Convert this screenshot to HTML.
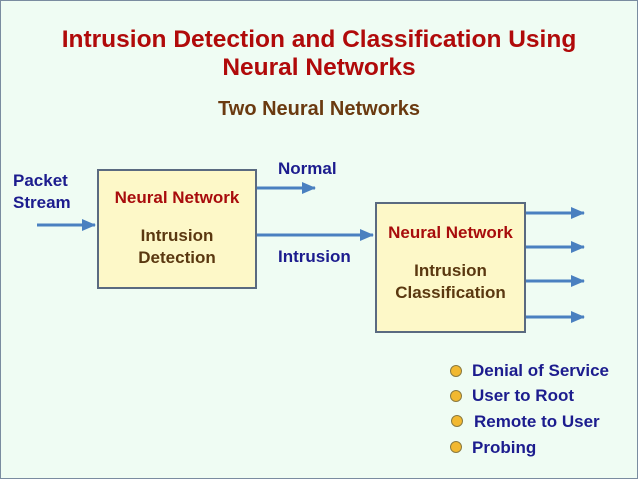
<!DOCTYPE html>
<html><head><style>
body{margin:0;}
#p{position:relative;width:636px;height:477px;border:1px solid #7a8ca0;background:#effcf3;font-family:"Liberation Sans",Arial,sans-serif;font-weight:bold;overflow:hidden;}
.t{position:absolute;white-space:nowrap;}
.blue{color:#1c1c8e;font-size:17px;}
.box{position:absolute;background:#fdf8c8;border:2px solid #5a6a80;box-sizing:border-box;text-align:center;}
.red{color:#a80c0c;font-size:17px;}
.br{color:#5a3810;font-size:17px;line-height:22px;}
.dot{position:absolute;width:10px;height:10px;border-radius:50%;background:#f2b830;border:1px solid #8a7a40;}
</style></head><body><div id="p">
<div class="t" style="left:0;width:636px;text-align:center;top:25px;color:#b00a0a;font-size:24.5px;line-height:28px;">Intrusion Detection and Classification Using<br>Neural Networks</div>
<div class="t" style="left:0;width:636px;text-align:center;top:97px;color:#6a3a10;font-size:20px;">Two Neural Networks</div>
<div class="t blue" style="left:12px;top:169px;line-height:22px;">Packet<br>Stream</div>
<div class="box" style="left:96px;top:168px;width:160px;height:120px;">
<div class="red" style="margin-top:17px;">Neural Network</div>
<div class="br" style="margin-top:17px;">Intrusion<br>Detection</div></div>
<div class="t blue" style="left:277px;top:158px;">Normal</div>
<div class="t blue" style="left:277px;top:246px;">Intrusion</div>
<div class="box" style="left:374px;top:201px;width:151px;height:131px;">
<div class="red" style="margin-top:19px;">Neural Network</div>
<div class="br" style="margin-top:17px;">Intrusion<br>Classification</div></div>
<svg style="position:absolute;left:0;top:0" width="636" height="477">
<defs><marker id="a" markerWidth="14" markerHeight="12" refX="13" refY="6" orient="auto" markerUnits="userSpaceOnUse"><path d="M0,0L14,6L0,12z" fill="#4a80c0"/></marker></defs>
<g stroke="#4a80c0" stroke-width="3" marker-end="url(#a)">
<line x1="36" y1="224" x2="94" y2="224"/>
<line x1="256" y1="187" x2="314" y2="187"/>
<line x1="256" y1="234" x2="372" y2="234"/>
<line x1="525" y1="212" x2="583" y2="212"/>
<line x1="525" y1="246" x2="583" y2="246"/>
<line x1="525" y1="280" x2="583" y2="280"/>
<line x1="525" y1="316" x2="583" y2="316"/>
</g></svg>
<div class="dot" style="left:449px;top:364px;"></div>
<div class="dot" style="left:449px;top:389px;"></div>
<div class="dot" style="left:450px;top:414px;"></div>
<div class="dot" style="left:449px;top:440px;"></div>
<div class="t blue" style="left:471px;top:360px;">Denial of Service</div>
<div class="t blue" style="left:471px;top:385px;">User to Root</div>
<div class="t blue" style="left:473px;top:411px;">Remote to User</div>
<div class="t blue" style="left:471px;top:437px;">Probing</div>
</div></body></html>
